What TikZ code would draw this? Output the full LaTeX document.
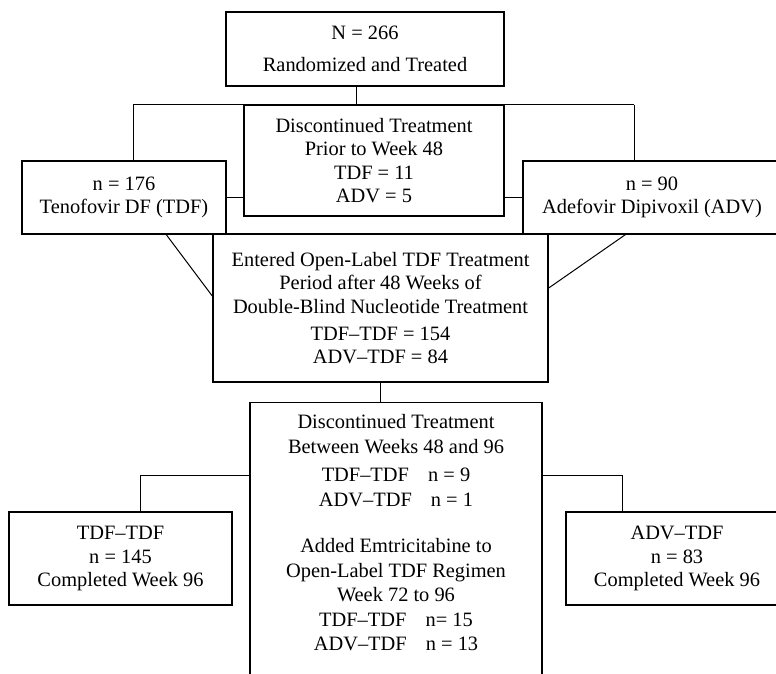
\documentclass[tikz,border=0pt]{standalone}
\usepackage{fontspec}
\setmainfont{Liberation Serif}
\newcommand\boxfont{\fontsize{20.4pt}{23.5pt}\selectfont}
\begin{document}
\begin{tikzpicture}[x=1pt,y=-1pt,
  box/.style={draw, line width=1.4pt, inner sep=0pt, align=center, font=\boxfont},
  link/.style={line width=1pt}]
\fill[white] (0,0) rectangle (776,674);
\useasboundingbox (0,0) rectangle (776,674);
\clip (0,0) rectangle (776,674);

\node[box, minimum width=278pt, minimum height=74pt] (top) at (365,49)
  {N = 266\\[9pt]Randomized and Treated};
\node[box, minimum width=260pt, minimum height=111pt] (disc1) at (374,160.5)
  {Discontinued Treatment\\Prior to Week 48\\TDF = 11\\ADV = 5};
\node[box, minimum width=204pt, minimum height=73pt] (left1) at (124,197.5)
  {n = 176\\Tenofovir DF (TDF)};
\node[box, minimum width=258pt, minimum height=73pt] (right1) at (652,197.5)
  {n = 90\\Adefovir Dipivoxil (ADV)};
\node[box, minimum width=335pt, minimum height=148pt] (entered) at (380.5,308)
  {Entered Open-Label TDF Treatment\\Period after 48 Weeks of\\Double-Blind Nucleotide Treatment\\[3.5pt]TDF–TDF = 154\\ADV–TDF = 84};
\node[box, anchor=north] (lower) at (396,402)
  {\parbox[c][290pt][t]{292pt}{\centering\fontsize{20.4pt}{24.5pt}\selectfont
   \vspace*{12pt}Discontinued Treatment\\
   Between Weeks 48 and 96\\[4pt]
   TDF–TDF\hspace{14pt} n = 9\\
   ADV–TDF\hspace{14pt} n = 1\\[22pt]
   Added Emtricitabine to\\
   Open-Label TDF Regimen\\
   Week 72 to 96\\
   TDF–TDF\hspace{14pt} n= 15\\
   ADV–TDF\hspace{14pt} n = 13}};
\node[box, minimum width=223pt, minimum height=93pt] (bl) at (120.5,558.5)
  {TDF–TDF\\n = 145\\Completed Week 96};
\node[box, minimum width=222pt, minimum height=93pt] (br) at (677,558.5)
  {ADV–TDF\\n = 83\\Completed Week 96};

\coordinate (jt) at (356,105);
\coordinate (jl) at (133,105);
\coordinate (jr) at (634,105);
\draw[link] (jt |- top.south) -- (jt);
\draw[link] (jl) -- (jr);
\draw[link] (jl) -- (jl |- left1.north);
\draw[link] (jr) -- (jr |- right1.north);
\draw[link] (left1.east) -- (left1.east -| disc1.west);
\draw[link] (disc1.east |- right1.west) -- (right1.west);
\draw[link] (left1.south west) ++(145,0) -- ([yshift=12pt]entered.west);
\draw[link] (right1.south west) ++(103,0) -- ([yshift=20pt]entered.east);
\draw[link] (entered.south) -- (entered.south |- lower.north);
\coordinate (ll) at (140,475);
\coordinate (rr) at (622,475);
\draw[link] (ll -| lower.west) -- (ll) -- (ll |- bl.north);
\draw[link] (rr -| lower.east) -- (rr) -- (rr |- br.north);
\end{tikzpicture}
\end{document}
